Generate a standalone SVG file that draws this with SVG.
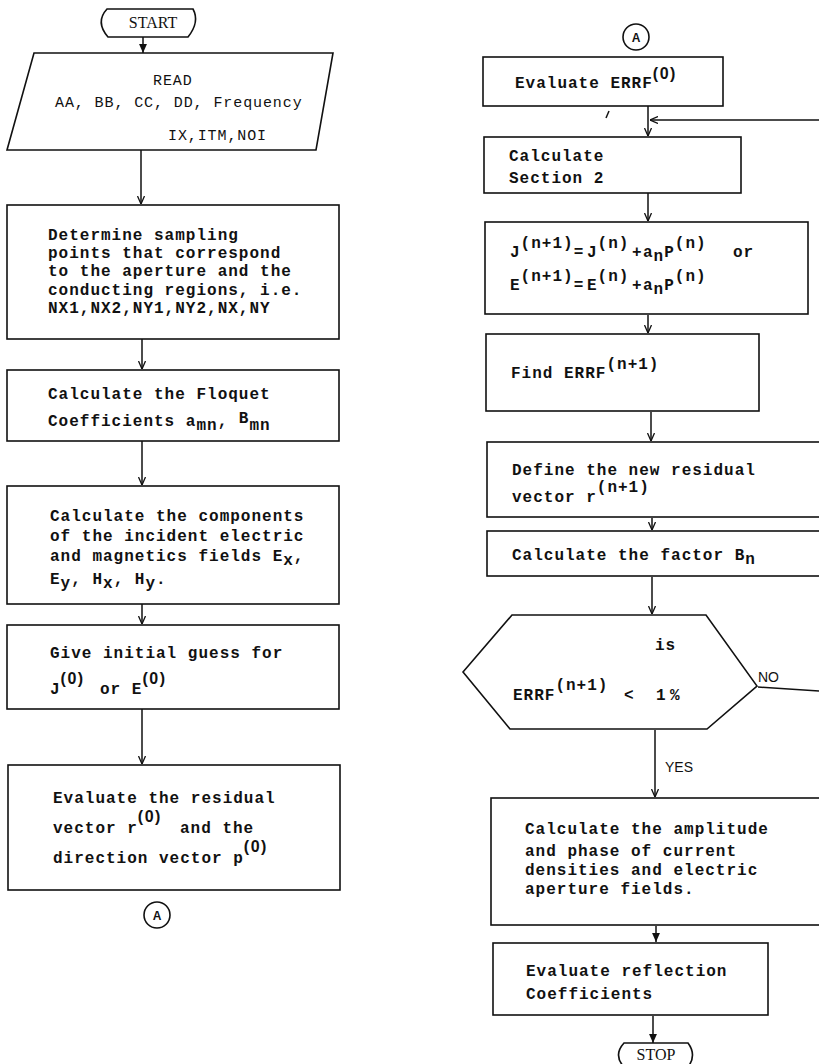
<svg xmlns="http://www.w3.org/2000/svg" width="819" height="1064" viewBox="0 0 819 1064">
  <defs>
    <style>
      .box { fill: none; stroke: #111; stroke-width: 1.6; }
      .edge { fill: none; stroke: #111; stroke-width: 1.5; }
      .t { font-family: "Liberation Mono", "Courier New", monospace; font-size: 16px; letter-spacing: 1px; fill: #111; font-weight: bold; }
      .rd { font-family: "Liberation Mono", "Courier New", monospace; font-size: 15px; letter-spacing: 0.9px; fill: #111; }
      .zero { font-family: "Liberation Sans", Arial, sans-serif; font-weight: bold; font-size: 16px; letter-spacing: 1.5px; }
      .term { font-family: "Liberation Serif", "Times New Roman", serif; font-size: 16px; fill: #111; }
      .lbl { font-family: "Liberation Sans", Arial, sans-serif; font-size: 14px; fill: #111; }
      .con { font-family: "Liberation Sans", Arial, sans-serif; font-size: 12px; font-weight: bold; fill: #111; }
    </style>
    <marker id="open" viewBox="0 0 8 8" refX="8" refY="4" markerWidth="8" markerHeight="8" markerUnits="userSpaceOnUse" orient="auto">
      <path d="M0,0.5 L8,4 L0,7.5" fill="none" stroke="#111" stroke-width="1.3"/>
    </marker>
    <marker id="solid" viewBox="0 0 8 8" refX="8" refY="4" markerWidth="9" markerHeight="9" markerUnits="userSpaceOnUse" orient="auto">
      <path d="M0,0.5 L8,4 L0,7.5 Z" fill="#111"/>
    </marker>
  </defs>
  <rect width="819" height="1064" fill="#fff"/>

  <!-- connectors -->
  <g id="connectors">
    <line class="edge" x1="143" y1="37" x2="143" y2="53" marker-end="url(#solid)"/>
    <line class="edge" x1="141" y1="150" x2="141" y2="204" marker-end="url(#open)"/>
    <line class="edge" x1="142" y1="339" x2="142" y2="369" marker-end="url(#open)"/>
    <line class="edge" x1="142" y1="441" x2="142" y2="485" marker-end="url(#open)"/>
    <line class="edge" x1="142" y1="604" x2="142" y2="624" marker-end="url(#open)"/>
    <line class="edge" x1="142" y1="709" x2="142" y2="764" marker-end="url(#open)"/>
    <line class="edge" x1="648" y1="106" x2="648" y2="136" marker-end="url(#open)"/>
    <line class="edge" x1="819" y1="120" x2="650" y2="120" marker-end="url(#open)"/>
    <line class="edge" x1="606" y1="118" x2="609" y2="111" stroke-width="1"/>
    <line class="edge" x1="648" y1="193" x2="648" y2="221" marker-end="url(#open)"/>
    <line class="edge" x1="648" y1="315" x2="648" y2="333" marker-end="url(#open)"/>
    <line class="edge" x1="651" y1="412" x2="651" y2="441" marker-end="url(#open)"/>
    <line class="edge" x1="652" y1="518" x2="652" y2="530" marker-end="url(#open)"/>
    <line class="edge" x1="652" y1="577" x2="652" y2="614" marker-end="url(#open)"/>
    <line class="edge" x1="758" y1="687" x2="819" y2="691"/>
    <line class="edge" x1="655" y1="730" x2="655" y2="797" marker-end="url(#open)"/>
    <line class="edge" x1="656" y1="926" x2="656" y2="942" marker-end="url(#solid)"/>
    <line class="edge" x1="653" y1="1016" x2="653" y2="1043" marker-end="url(#solid)"/>
  </g>

  <!-- left column -->
  <g id="start">
    <path class="box" d="M107,9 L193,9 Q200,22 188,37 L108,37 Q95,22 107,9 Z"/>
    <text class="term" x="153" y="28" text-anchor="middle">START</text>
  </g>

  <g id="read">
    <polygon class="box" points="34,53 333,53 316,150 7,150"/>
    <text class="rd" x="153" y="85">READ</text>
    <text class="rd" x="55" y="107">AA, BB, CC, DD, Frequency</text>
    <text class="rd" x="168" y="140">IX,ITM,NOI</text>
  </g>

  <g id="sampling">
    <rect class="box" x="7" y="205" width="332" height="134"/>
    <text class="t" x="48" y="240">Determine sampling</text>
    <text class="t" x="48" y="258">points that correspond</text>
    <text class="t" x="48" y="276">to the aperture and the</text>
    <text class="t" x="48" y="295">conducting regions, i.e.</text>
    <text class="t" x="48" y="313">NX1,NX2,NY1,NY2,NX,NY</text>
  </g>

  <g id="floquet">
    <rect class="box" x="7" y="370" width="332" height="71"/>
    <text class="t" x="48" y="399">Calculate the Floquet</text>
    <text class="t" x="48" y="426">Coefficients a<tspan dy="4">mn</tspan><tspan dy="-4">, </tspan><tspan dy="-3">B</tspan><tspan dy="7">mn</tspan></text>
  </g>

  <g id="incident">
    <rect class="box" x="7" y="486" width="332" height="118"/>
    <text class="t" x="50" y="521">Calculate the components</text>
    <text class="t" x="50" y="541">of the incident electric</text>
    <text class="t" x="50" y="561">and magnetics fields E<tspan dy="4">x</tspan><tspan dy="-4">,</tspan></text>
    <text class="t" x="50" y="584">E<tspan dy="4">y</tspan><tspan dy="-4">, H</tspan><tspan dy="4">x</tspan><tspan dy="-4">, H</tspan><tspan dy="4">y</tspan><tspan dy="-4">.</tspan></text>
  </g>

  <g id="guess">
    <rect class="box" x="7" y="625" width="332" height="84"/>
    <text class="t" x="50" y="658">Give initial guess for</text>
    <text class="t" x="50" y="694">J<tspan class="zero" dy="-10">(0)</tspan><tspan x="100" dy="10">or E</tspan><tspan class="zero" dy="-10">(0)</tspan></text>
  </g>

  <g id="residual0">
    <rect class="box" x="8" y="765" width="332" height="125"/>
    <text class="t" x="53" y="803">Evaluate the residual</text>
    <text class="t" x="53" y="833">vector r<tspan class="zero" dy="-11">(0)</tspan><tspan x="180" dy="11">and the</tspan></text>
    <text class="t" x="53" y="863">direction vector p<tspan class="zero" dy="-11">(0)</tspan></text>
  </g>

  <g id="connector-a-out">
    <circle class="box" cx="157" cy="915" r="13"/>
    <text class="con" x="157" y="919.5" text-anchor="middle">A</text>
  </g>

  <!-- right column -->
  <g id="connector-a-in">
    <circle class="box" cx="636" cy="37" r="13"/>
    <text class="con" x="636" y="41.5" text-anchor="middle">A</text>
  </g>

  <g id="errf0">
    <rect class="box" x="483" y="57" width="240" height="49"/>
    <text class="t" x="515" y="88">Evaluate ERRF<tspan class="zero" dy="-9">(0)</tspan></text>
  </g>

  <g id="section2">
    <rect class="box" x="484" y="137" width="257" height="56"/>
    <text class="t" x="509" y="161">Calculate</text>
    <text class="t" x="509" y="183">Section 2</text>
  </g>

  <g id="update">
    <rect class="box" x="485" y="222" width="323" height="92"/>
    <text class="t" x="510" y="257">J<tspan dy="-9">(n+1)</tspan><tspan dy="9">=</tspan><tspan x="587">J</tspan><tspan dy="-9">(n)</tspan><tspan x="632" dy="9">+</tspan><tspan x="643">a</tspan><tspan dy="4">n</tspan><tspan dy="-4">P</tspan><tspan dy="-9">(n)</tspan><tspan x="733" dy="9">or</tspan></text>
    <text class="t" x="510" y="290">E<tspan dy="-9">(n+1)</tspan><tspan dy="9">=</tspan><tspan x="587">E</tspan><tspan dy="-9">(n)</tspan><tspan x="632" dy="9">+</tspan><tspan x="643">a</tspan><tspan dy="4">n</tspan><tspan dy="-4">P</tspan><tspan dy="-9">(n)</tspan></text>
  </g>

  <g id="errf-next">
    <rect class="box" x="486" y="334" width="273" height="77"/>
    <text class="t" x="511" y="378">Find ERRF<tspan dy="-9">(n+1)</tspan></text>
  </g>

  <g id="residual-next">
    <rect class="box" x="487" y="442" width="345" height="75"/>
    <text class="t" x="512" y="475">Define the new residual</text>
    <text class="t" x="512" y="502">vector r<tspan dy="-10">(n+1)</tspan></text>
  </g>

  <g id="factor">
    <rect class="box" x="487" y="531" width="345" height="45"/>
    <text class="t" x="512" y="560">Calculate the factor B<tspan dy="4">n</tspan></text>
  </g>

  <g id="decision">
    <polygon class="box" points="512,615 706,615 757,686 707,729 510,729 463,672"/>
    <text class="t" x="655" y="650">is</text>
    <text class="t" x="513" y="700">ERRF<tspan dy="-10">(n+1)</tspan><tspan x="624" dy="10">&lt;</tspan><tspan x="656">1</tspan><tspan x="670">%</tspan></text>
    <text class="lbl" x="758" y="682">NO</text>
    <text class="lbl" x="665" y="772">YES</text>
  </g>

  <g id="amplitude">
    <rect class="box" x="491" y="798" width="341" height="127"/>
    <text class="t" x="525" y="834">Calculate the amplitude</text>
    <text class="t" x="525" y="856">and phase of current</text>
    <text class="t" x="525" y="875">densities and electric</text>
    <text class="t" x="525" y="894">aperture fields.</text>
  </g>

  <g id="reflection">
    <rect class="box" x="493" y="943" width="275" height="72"/>
    <text class="t" x="526" y="976">Evaluate reflection</text>
    <text class="t" x="526" y="999">Coefficients</text>
  </g>

  <g id="stop">
    <path class="box" d="M624,1043 L688,1043 Q697,1055 688,1067 L624,1067 Q613,1055 624,1043 Z"/>
    <text class="term" x="656" y="1060" text-anchor="middle">STOP</text>
  </g>
</svg>
